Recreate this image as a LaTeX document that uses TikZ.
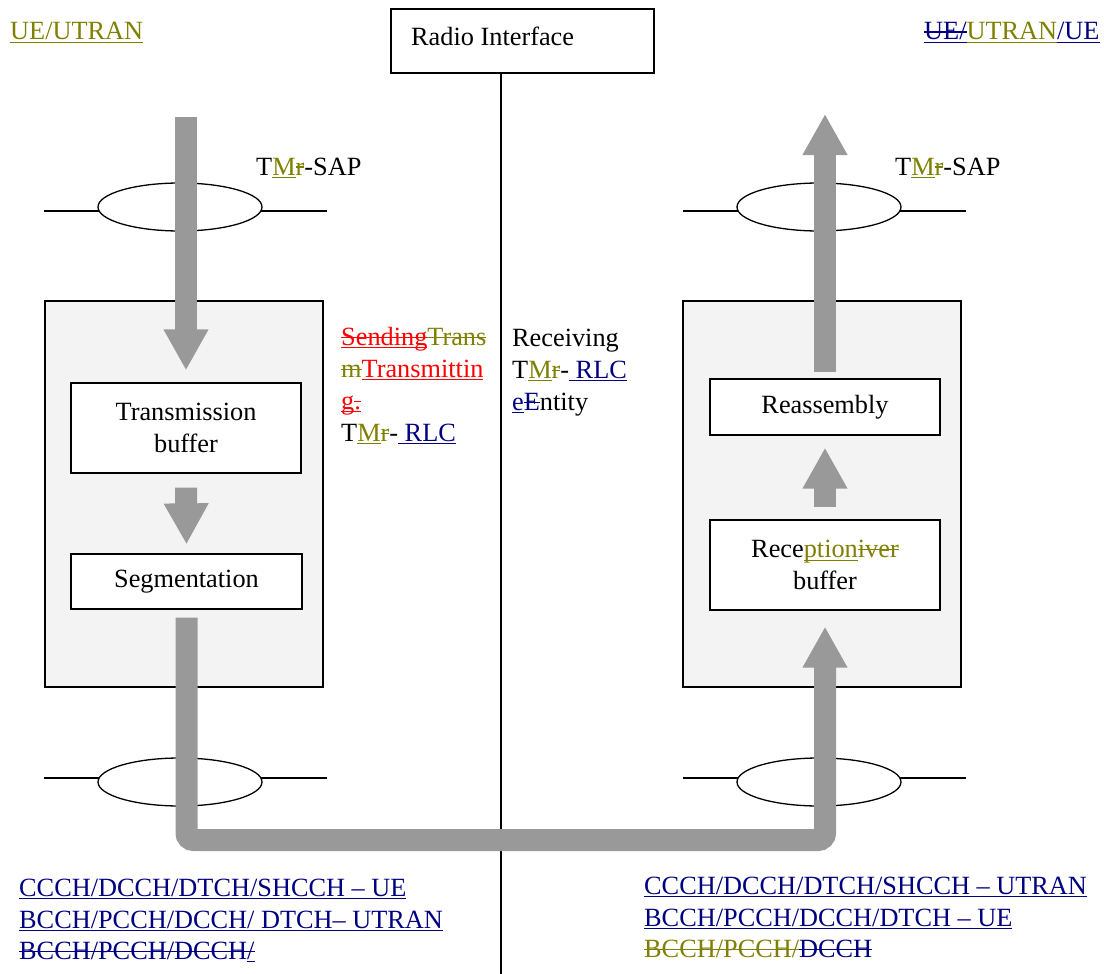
\documentclass[tikz,border=0pt]{standalone}
\usepackage{fontspec}
\setmainfont{Liberation Serif}
\usetikzlibrary{shapes.geometric,arrows.meta}

\definecolor{olv}{RGB}{128,128,0}
\definecolor{nvy}{RGB}{0,0,128}
\definecolor{rd}{RGB}{255,0,0}
\definecolor{arrowgrey}{RGB}{153,153,153}
\definecolor{panel}{RGB}{243,243,243}

% underline and strike-out drawn as rules in the current colour
\newcommand\ulin[1]{\leavevmode\setbox0\hbox{#1}\rlap{\rule[-3.4pt]{\wd0}{1.3pt}}\box0}
\newcommand\strk[1]{\leavevmode\setbox0\hbox{#1}\rlap{\rule[7.2pt]{\wd0}{1.3pt}}\box0}
\newcommand\ulstrk[1]{\leavevmode\setbox0\hbox{#1}\rlap{\rule[-3.4pt]{\wd0}{1.3pt}}\rlap{\rule[7.2pt]{\wd0}{1.3pt}}\box0}
% tracked changes: inserted text is underlined, deleted text is struck out
\newcommand\addtxt[2]{\textcolor{#1}{\ulin{#2}}}
\newcommand\deltxt[2]{\textcolor{#1}{\strk{#2}}}

\begin{document}
\begin{tikzpicture}[x=1pt,y=-1pt,
  every node/.style={font=\fontsize{26.3}{32}\selectfont, inner sep=0pt},
  txt/.style={anchor=base west},
  box/.style={draw, line width=1.3pt, fill=white, align=center},
  panelbox/.style={draw, line width=1.3pt, fill=panel},
  sap/.style={draw, ellipse, line width=1.3pt, fill=white, minimum width=164pt, minimum height=48pt},
  sapline/.style={line width=1.3pt},
  fat/.style={draw=arrowgrey, line width=22pt, -{Triangle[width=42pt,length=41pt]}}]

\useasboundingbox (0,0) rectangle (1104,974);

% side headings
\node[txt] (ueL) at (10,40) {\addtxt{olv}{UE/UTRAN}};
\node[txt] (ueR) at (924,40) {\textcolor{nvy}{\ulstrk{UE/}}\addtxt{olv}{UTRAN}\addtxt{nvy}{/UE}};

% radio interface and the dividing axis
\node[box, minimum width=263pt, minimum height=64pt] (radio) at (522.5,41) {};
\node[txt] (radioTxt) at (411,46) {Radio Interface};
\coordinate (axisTop) at (501,73);
\coordinate (axisBot) at (501,974);
\draw[line width=1.3pt] (axisTop) -- (axisBot);

% RLC entity panels
\node[panelbox, minimum width=278pt, minimum height=386pt] (panelL) at (184,494) {};
\node[panelbox, minimum width=278pt, minimum height=386pt] (panelR) at (822,494) {};

% inner function boxes
\node[box, minimum width=230pt, minimum height=90pt] (tb) at (186,428) {Transmission\\buffer};
\node[box, minimum width=231pt, minimum height=55pt] (seg) at (186.5,581.5) {Segmentation};
\node[box, minimum width=230pt, minimum height=56pt] (ra) at (825,407) {Reassembly};
\node[box, minimum width=230pt, minimum height=90pt] (rb) at (825,565)
  {Rece\addtxt{olv}{ption}\deltxt{olv}{iver}\\buffer};

% service access points
\coordinate (sapTLa) at (44,211);  \coordinate (sapTLb) at (327,211);
\coordinate (sapTRa) at (683,211); \coordinate (sapTRb) at (966,211);
\coordinate (sapBLa) at (44,778);  \coordinate (sapBLb) at (327,778);
\coordinate (sapBRa) at (683,778); \coordinate (sapBRb) at (966,778);
\draw[sapline] (sapTLa) -- (sapTLb);
\draw[sapline] (sapTRa) -- (sapTRb);
\draw[sapline] (sapBLa) -- (sapBLb);
\draw[sapline] (sapBRa) -- (sapBRb);
\node[sap] (sapTL) at (180,207) {};
\node[sap] (sapTR) at (819,207) {};
\node[sap] (sapBL) at (180,782) {};
\node[sap] (sapBR) at (819,782) {};

\node[txt] (sapTxtL) at (256,175) {T\addtxt{olv}{M}\deltxt{olv}{r}-SAP};
\node[txt] (sapTxtR) at (895,175) {T\addtxt{olv}{M}\deltxt{olv}{r}-SAP};

% entity names
\node[txt] (sendA) at (341,345) {\textcolor{rd}{\ulstrk{Sending}}\deltxt{olv}{Trans}};
\node[txt] (sendB) at (341,377) {\deltxt{olv}{m}\addtxt{rd}{Transmittin}};
\node[txt] (sendC) at (341,409) {\addtxt{rd}{g}\textcolor{rd}{\ulstrk{.}}};
\node[txt] (sendD) at (341,441) {T\addtxt{olv}{M}\deltxt{olv}{r}-\addtxt{nvy}{~RLC}};
\node[txt] (recvA) at (512,346) {Receiving};
\node[txt] (recvB) at (512,378) {T\addtxt{olv}{M}\deltxt{olv}{r}-\addtxt{nvy}{~RLC}};
\node[txt] (recvC) at (512,410) {\addtxt{nvy}{e}\deltxt{nvy}{E}ntity};

% logical channels
\node[txt] (chLA) at (19,896) {\addtxt{nvy}{CCCH/DCCH/DTCH/SHCCH – UE}};
\node[txt] (chLB) at (19,928) {\addtxt{nvy}{BCCH/PCCH/DCCH/ DTCH– UTRAN}};
\node[txt] (chLC) at (19,959) {\textcolor{nvy}{\strk{BCCH/PCCH/DCCH}\ulstrk{/}}};
\node[txt] (chRA) at (644,894) {\addtxt{nvy}{CCCH/DCCH/DTCH/SHCCH – UTRAN}};
\node[txt] (chRB) at (644,926) {\addtxt{nvy}{BCCH/PCCH/DCCH/DTCH – UE}};
\node[txt] (chRC) at (644,957) {\deltxt{olv}{BCCH/PCCH/}\deltxt{nvy}{DCCH}};

% data flow
\coordinate (inL) at (186,117);
\coordinate (outR) at (825,114);
\coordinate (turnL) at (186.5,840);
\coordinate (turnR) at (825,840);
\draw[fat] (inL) -- ([yshift=12pt]tb.north);
\draw[fat] ([yshift=-14pt]tb.south) -- ([yshift=9pt]seg.north);
\draw[fat, rounded corners=7pt] ([yshift=-8pt]seg.south) -- (turnL) -- (turnR) -- ([yshift=-16pt]rb.south);
\draw[fat] ([yshift=12pt]rb.north) -- ([yshift=-12pt]ra.south);
\draw[fat] ([yshift=6pt]ra.north) -- (outR);

\end{tikzpicture}
\end{document}
